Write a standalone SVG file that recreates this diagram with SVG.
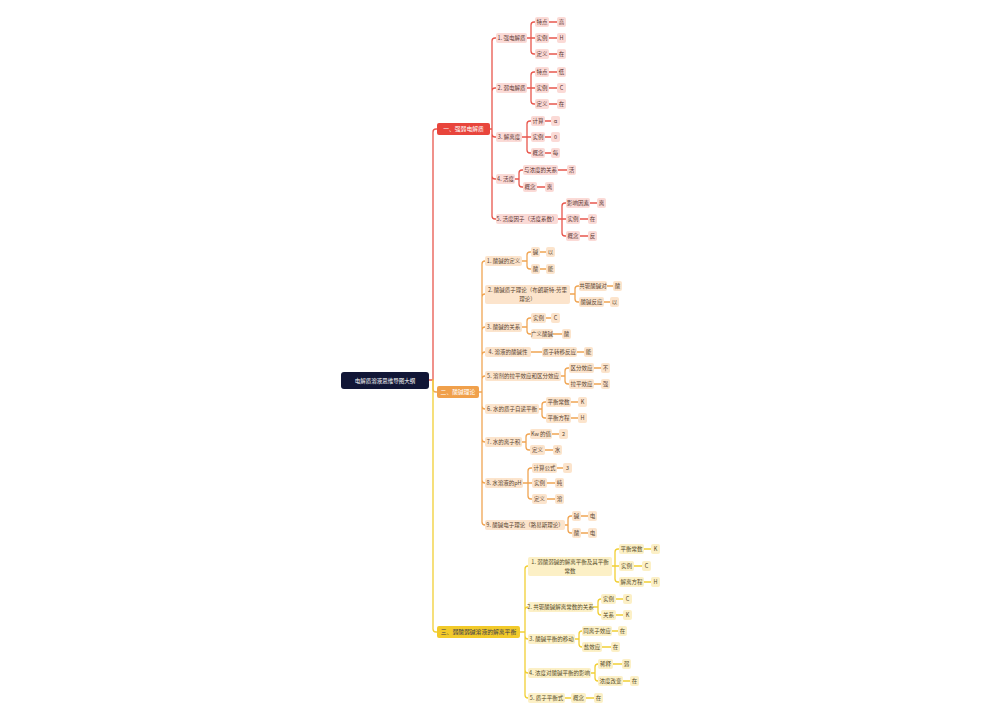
<svg xmlns="http://www.w3.org/2000/svg" width="1000" height="720" viewBox="0 0 1000 720">
<style>
text{font-family:"Noto Sans CJK SC","Noto Sans",sans-serif;font-size:5.5px;text-anchor:middle}
.c1,.c2,.c3{fill:none;stroke-linecap:round;stroke-linejoin:round;stroke-width:1.3}
.c1{stroke:#e8574d}.c2{stroke:#f0a553}.c3{stroke:#f1cf35}
.k1 rect{fill:#fbdad6}.k1 text{fill:#5a3431}
.k2 rect{fill:#fce4cc}.k2 text{fill:#5a4532}
.k3 rect{fill:#fcf0c6}.k3 text{fill:#554b28}
.br text{font-size:5.8px}
</style>
<rect width="1000" height="720" fill="#fff"/>
<g id="connectors">
<g class="c1">
<path d="M429,380H433M433,380V132Q433,129 436,129H437"/>
<path d="M490,129H492M492,129V41Q492,38 495,38H496M492,129V91Q492,88 495,88H496M492,129V134Q492,137 495,137H496M492,129V176Q492,179 495,179H496M492,129V216Q492,219 495,219H496"/>
<path d="M527,38H535M531,38V25Q531,22 534,22H535M531,38V51Q531,54 534,54H535M549,22H557M549,38H557M549,54H557"/>
<path d="M527,88H535M531,88V75Q531,72 534,72H535M531,88V101Q531,104 534,104H535M549,72H557M549,88H557M549,104H557"/>
<path d="M522,137H531M527,137V124Q527,121 530,121H531M527,137V150Q527,153 530,153H531M545,121H551M545,137H551M545,153H551"/>
<path d="M515,179H519M519,179V173Q519,170 522,170H523M519,179V184Q519,187 522,187H523M558,170H567M537,187H545"/>
<path d="M558,219H566M562,219V206Q562,203 565,203H566M562,219V233Q562,236 565,236H566M590,203H597M580,219H588M580,236H588"/>
</g>
<g class="c2">
<path d="M433,380V389Q433,392 436,392H437"/>
<path d="M479,392H482M482,392V264Q482,261 485,261M482,392V297Q482,294 485,294M482,392V330Q482,327 485,327M482,392V355Q482,352 485,352M482,392V379Q482,376 485,376M482,392V406Q482,409 485,409M482,392V439Q482,442 485,442M482,392V480Q482,483 485,483M482,392V522Q482,525 485,525"/>
<path d="M522,261H527M527,261V255Q527,252 530,252H531M527,261V266Q527,269 530,269H531M540,252H546M540,269H546"/>
<path d="M570,294H575M575,294V289Q575,286 578,286H579M575,294V299Q575,302 578,302H579M607,286H613M604,302H610"/>
<path d="M522,327H527M527,327V321Q527,318 530,318H531M527,327V331Q527,334 530,334H531M546,318H551M553,334H562"/>
<path d="M531,352H542M577,352H584"/>
<path d="M561,376H565M565,376V371Q565,368 568,368H569M565,376V381Q565,384 568,384H569M594,368H601M594,384H601"/>
<path d="M539,409H542M542,409V405Q542,402 545,402H546M542,409V415Q542,418 545,418H546M571,402H578M571,418H578"/>
<path d="M522,442H526M526,442V437Q526,434 529,434H530M526,442V447Q526,450 529,450H530M552,434H559M545,450H553"/>
<path d="M523,483H532M528,483V471Q528,468 531,468H532M528,483V496Q528,499 531,499H532M557,468H563M547,483H555M547,499H555"/>
<path d="M565,525H568M568,525V519Q568,516 571,516H572M568,525V530Q568,533 571,533H572M581,516H588M581,533H588"/>
</g>
<g class="c3">
<path d="M433,380V629Q433,632 436,632H437"/>
<path d="M520,632H525M525,632V569Q525,566 528,566M525,632V610Q525,607 528,607M525,632V636Q525,639 528,639M525,632V670Q525,673 528,673M525,632V695Q525,698 528,698"/>
<path d="M612,566H619M615,566V552Q615,549 618,549H619M615,566V579Q615,582 618,582H619M644,549H651M634,566H642M644,582H651"/>
<path d="M593,607H598M598,607V602Q598,599 601,599M598,607V612Q598,615 601,615M616,599H623M616,615H623"/>
<path d="M575,639H579M579,639V634Q579,631 582,631M579,639V644Q579,647 582,647M612,631H618M602,647H611"/>
<path d="M591,673H595M595,673V667Q595,664 598,664M595,673V678Q595,681 598,681M613,664H622M623,681H630"/>
<path d="M565,698H571M586,698H594"/>
</g>
</g>
<g id="root"><rect x="341" y="372" width="88" height="17" rx="3" fill="#111636"/><text x="385" y="382.5" fill="#fff" font-size="7">电解质溶液思维导图大纲</text></g>
<g class="br">
<g id="b1"><rect x="437" y="123" width="53" height="12" rx="2" fill="#e8453c"/><text x="463.5" y="131" fill="#fff">一、强弱电解质</text></g>
<g id="b2"><rect x="437" y="386" width="42" height="12" rx="2" fill="#f0a04b"/><text x="458" y="394" fill="#fff">二、酸碱理论</text></g>
<g id="b3"><rect x="437" y="626" width="83" height="12" rx="2" fill="#f2ca2a"/><text x="478.5" y="634" fill="#3a3a4a">三、弱酸弱碱溶液的解离平衡</text></g>
</g>
<g class="k1">
<g id="n1-1"><rect x="496" y="33" width="31" height="10" rx="2"/><text x="511.5" y="40">1. 强电解质</text></g>
<g id="n1-1a"><rect x="535" y="17" width="14" height="10" rx="2"/><text x="542" y="24">特点</text></g>
<g id="n1-1a1"><rect x="557" y="17" width="9" height="10" rx="2"/><text x="561.5" y="24">高</text></g>
<g id="n1-1b"><rect x="535" y="33" width="14" height="10" rx="2"/><text x="542" y="40">实例</text></g>
<g id="n1-1b1"><rect x="557" y="33" width="9" height="10" rx="2"/><text x="561.5" y="40">H</text></g>
<g id="n1-1c"><rect x="535" y="49" width="14" height="10" rx="2"/><text x="542" y="56">定义</text></g>
<g id="n1-1c1"><rect x="557" y="49" width="9" height="10" rx="2"/><text x="561.5" y="56">在</text></g>
<g id="n1-2"><rect x="496" y="83" width="31" height="10" rx="2"/><text x="511.5" y="90">2. 弱电解质</text></g>
<g id="n1-2a"><rect x="535" y="67" width="14" height="10" rx="2"/><text x="542" y="74">特点</text></g>
<g id="n1-2a1"><rect x="557" y="67" width="9" height="10" rx="2"/><text x="561.5" y="74">低</text></g>
<g id="n1-2b"><rect x="535" y="83" width="14" height="10" rx="2"/><text x="542" y="90">实例</text></g>
<g id="n1-2b1"><rect x="557" y="83" width="9" height="10" rx="2"/><text x="561.5" y="90">C</text></g>
<g id="n1-2c"><rect x="535" y="99" width="14" height="10" rx="2"/><text x="542" y="106">定义</text></g>
<g id="n1-2c1"><rect x="557" y="99" width="9" height="10" rx="2"/><text x="561.5" y="106">在</text></g>
<g id="n1-3"><rect x="496" y="132" width="26" height="10" rx="2"/><text x="509" y="139">3. 解离度</text></g>
<g id="n1-3a"><rect x="531" y="116" width="14" height="10" rx="2"/><text x="538" y="123">计算</text></g>
<g id="n1-3a1"><rect x="551" y="116" width="9" height="10" rx="2"/><text x="555.5" y="123">α</text></g>
<g id="n1-3b"><rect x="531" y="132" width="14" height="10" rx="2"/><text x="538" y="139">实例</text></g>
<g id="n1-3b1"><rect x="551" y="132" width="9" height="10" rx="2"/><text x="555.5" y="139">0</text></g>
<g id="n1-3c"><rect x="531" y="148" width="14" height="10" rx="2"/><text x="538" y="155">概念</text></g>
<g id="n1-3c1"><rect x="551" y="148" width="9" height="10" rx="2"/><text x="555.5" y="155">每</text></g>
<g id="n1-4"><rect x="496" y="174" width="19" height="10" rx="2"/><text x="505.5" y="181">4. 活度</text></g>
<g id="n1-4a"><rect x="523" y="165" width="35" height="10" rx="2"/><text x="540.5" y="172">与浓度的关系</text></g>
<g id="n1-4a1"><rect x="567" y="165" width="9" height="10" rx="2"/><text x="571.5" y="172">活</text></g>
<g id="n1-4b"><rect x="523" y="182" width="14" height="10" rx="2"/><text x="530" y="189">概念</text></g>
<g id="n1-4b1"><rect x="545" y="182" width="9" height="10" rx="2"/><text x="549.5" y="189">离</text></g>
<g id="n1-5"><rect x="496" y="214" width="62" height="10" rx="2"/><text x="527" y="221">5. 活度因子（活度系数）</text></g>
<g id="n1-5a"><rect x="566" y="198" width="24" height="10" rx="2"/><text x="578" y="205">影响因素</text></g>
<g id="n1-5a1"><rect x="597" y="198" width="9" height="10" rx="2"/><text x="601.5" y="205">离</text></g>
<g id="n1-5b"><rect x="566" y="214" width="14" height="10" rx="2"/><text x="573" y="221">实例</text></g>
<g id="n1-5b1"><rect x="588" y="214" width="9" height="10" rx="2"/><text x="592.5" y="221">在</text></g>
<g id="n1-5c"><rect x="566" y="231" width="14" height="10" rx="2"/><text x="573" y="238">概念</text></g>
<g id="n1-5c1"><rect x="588" y="231" width="9" height="10" rx="2"/><text x="592.5" y="238">反</text></g>
</g>
<g class="k2">
<g id="n2-1"><rect x="485" y="256" width="37" height="10" rx="2"/><text x="503.5" y="263">1. 酸碱的定义</text></g>
<g id="n2-1a"><rect x="531" y="247" width="9" height="10" rx="2"/><text x="535.5" y="254">碱</text></g>
<g id="n2-1a1"><rect x="546" y="247" width="9" height="10" rx="2"/><text x="550.5" y="254">以</text></g>
<g id="n2-1b"><rect x="531" y="264" width="9" height="10" rx="2"/><text x="535.5" y="271">酸</text></g>
<g id="n2-1b1"><rect x="546" y="264" width="9" height="10" rx="2"/><text x="550.5" y="271">能</text></g>
<g id="n2-2"><rect x="485" y="285" width="85" height="19" rx="2"/><text x="527.5" y="292">2. 酸碱质子理论（布朗斯特-劳里<tspan x="527.5" y="300.5">理论）</tspan></text></g>
<g id="n2-2a"><rect x="579" y="281" width="28" height="10" rx="2"/><text x="593" y="288">共轭酸碱对</text></g>
<g id="n2-2a1"><rect x="613" y="281" width="9" height="10" rx="2"/><text x="617.5" y="288">酸</text></g>
<g id="n2-2b"><rect x="579" y="297" width="25" height="10" rx="2"/><text x="591.5" y="304">酸碱反应</text></g>
<g id="n2-2b1"><rect x="610" y="297" width="9" height="10" rx="2"/><text x="614.5" y="304">以</text></g>
<g id="n2-3"><rect x="485" y="322" width="37" height="10" rx="2"/><text x="503.5" y="329">3. 酸碱的关系</text></g>
<g id="n2-3a"><rect x="531" y="313" width="15" height="10" rx="2"/><text x="538.5" y="320">实例</text></g>
<g id="n2-3a1"><rect x="551" y="313" width="9" height="10" rx="2"/><text x="555.5" y="320">C</text></g>
<g id="n2-3b"><rect x="531" y="329" width="22" height="10" rx="2"/><text x="542" y="336">广义酸碱</text></g>
<g id="n2-3b1"><rect x="562" y="329" width="9" height="10" rx="2"/><text x="566.5" y="336">酸</text></g>
<g id="n2-4"><rect x="485" y="347" width="46" height="10" rx="2"/><text x="508" y="354">4. 溶液的酸碱性</text></g>
<g id="n2-4a"><rect x="542" y="347" width="35" height="10" rx="2"/><text x="559.5" y="354">质子转移反应</text></g>
<g id="n2-4a1"><rect x="584" y="347" width="9" height="10" rx="2"/><text x="588.5" y="354">能</text></g>
<g id="n2-5"><rect x="485" y="371" width="76" height="10" rx="2"/><text x="523" y="378">5. 溶剂的拉平效应和区分效应</text></g>
<g id="n2-5a"><rect x="569" y="363" width="25" height="10" rx="2"/><text x="581.5" y="370">区分效应</text></g>
<g id="n2-5a1"><rect x="601" y="363" width="9" height="10" rx="2"/><text x="605.5" y="370">不</text></g>
<g id="n2-5b"><rect x="569" y="379" width="25" height="10" rx="2"/><text x="581.5" y="386">拉平效应</text></g>
<g id="n2-5b1"><rect x="601" y="379" width="9" height="10" rx="2"/><text x="605.5" y="386">强</text></g>
<g id="n2-6"><rect x="485" y="404" width="54" height="10" rx="2"/><text x="512" y="411">6. 水的质子自递平衡</text></g>
<g id="n2-6a"><rect x="546" y="397" width="25" height="10" rx="2"/><text x="558.5" y="404">平衡常数</text></g>
<g id="n2-6a1"><rect x="578" y="397" width="9" height="10" rx="2"/><text x="582.5" y="404">K</text></g>
<g id="n2-6b"><rect x="546" y="413" width="25" height="10" rx="2"/><text x="558.5" y="420">平衡方程</text></g>
<g id="n2-6b1"><rect x="578" y="413" width="9" height="10" rx="2"/><text x="582.5" y="420">H</text></g>
<g id="n2-7"><rect x="485" y="437" width="37" height="10" rx="2"/><text x="503.5" y="444">7. 水的离子积</text></g>
<g id="n2-7a"><rect x="530" y="429" width="22" height="10" rx="2"/><text x="541" y="436">Kw 的值</text></g>
<g id="n2-7a1"><rect x="559" y="429" width="9" height="10" rx="2"/><text x="563.5" y="436">2</text></g>
<g id="n2-7b"><rect x="530" y="445" width="15" height="10" rx="2"/><text x="537.5" y="452">定义</text></g>
<g id="n2-7b1"><rect x="553" y="445" width="9" height="10" rx="2"/><text x="557.5" y="452">水</text></g>
<g id="n2-8"><rect x="485" y="478" width="38" height="10" rx="2"/><text x="504" y="485">8. 水溶液的pH</text></g>
<g id="n2-8a"><rect x="532" y="463" width="25" height="10" rx="2"/><text x="544.5" y="470">计算公式</text></g>
<g id="n2-8a1"><rect x="563" y="463" width="9" height="10" rx="2"/><text x="567.5" y="470">3</text></g>
<g id="n2-8b"><rect x="532" y="478" width="15" height="10" rx="2"/><text x="539.5" y="485">实例</text></g>
<g id="n2-8b1"><rect x="555" y="478" width="9" height="10" rx="2"/><text x="559.5" y="485">纯</text></g>
<g id="n2-8c"><rect x="532" y="494" width="15" height="10" rx="2"/><text x="539.5" y="501">定义</text></g>
<g id="n2-8c1"><rect x="555" y="494" width="9" height="10" rx="2"/><text x="559.5" y="501">溶</text></g>
<g id="n2-9"><rect x="485" y="520" width="80" height="10" rx="2"/><text x="525" y="527">9. 酸碱电子理论（路易斯理论）</text></g>
<g id="n2-9a"><rect x="572" y="511" width="9" height="10" rx="2"/><text x="576.5" y="518">碱</text></g>
<g id="n2-9a1"><rect x="588" y="511" width="9" height="10" rx="2"/><text x="592.5" y="518">电</text></g>
<g id="n2-9b"><rect x="572" y="528" width="9" height="10" rx="2"/><text x="576.5" y="535">酸</text></g>
<g id="n2-9b1"><rect x="588" y="528" width="9" height="10" rx="2"/><text x="592.5" y="535">电</text></g>
</g>
<g class="k3">
<g id="n3-1"><rect x="528" y="557" width="84" height="19" rx="2"/><text x="570" y="564">1. 弱酸弱碱的解离平衡及其平衡<tspan x="570" y="572.5">常数</tspan></text></g>
<g id="n3-1a"><rect x="619" y="544" width="25" height="10" rx="2"/><text x="631.5" y="551">平衡常数</text></g>
<g id="n3-1a1"><rect x="651" y="544" width="9" height="10" rx="2"/><text x="655.5" y="551">K</text></g>
<g id="n3-1b"><rect x="619" y="561" width="15" height="10" rx="2"/><text x="626.5" y="568">实例</text></g>
<g id="n3-1b1"><rect x="642" y="561" width="9" height="10" rx="2"/><text x="646.5" y="568">C</text></g>
<g id="n3-1c"><rect x="619" y="577" width="25" height="10" rx="2"/><text x="631.5" y="584">解离方程</text></g>
<g id="n3-1c1"><rect x="651" y="577" width="9" height="10" rx="2"/><text x="655.5" y="584">H</text></g>
<g id="n3-2"><rect x="528" y="602" width="65" height="10" rx="2"/><text x="560.5" y="609">2. 共轭酸碱解离常数的关系</text></g>
<g id="n3-2a"><rect x="601" y="594" width="15" height="10" rx="2"/><text x="608.5" y="601">实例</text></g>
<g id="n3-2a1"><rect x="623" y="594" width="9" height="10" rx="2"/><text x="627.5" y="601">C</text></g>
<g id="n3-2b"><rect x="601" y="610" width="15" height="10" rx="2"/><text x="608.5" y="617">关系</text></g>
<g id="n3-2b1"><rect x="623" y="610" width="9" height="10" rx="2"/><text x="627.5" y="617">K</text></g>
<g id="n3-3"><rect x="528" y="634" width="47" height="10" rx="2"/><text x="551.5" y="641">3. 酸碱平衡的移动</text></g>
<g id="n3-3a"><rect x="582" y="626" width="30" height="10" rx="2"/><text x="597" y="633">同离子效应</text></g>
<g id="n3-3a1"><rect x="618" y="626" width="9" height="10" rx="2"/><text x="622.5" y="633">在</text></g>
<g id="n3-3b"><rect x="582" y="642" width="20" height="10" rx="2"/><text x="592" y="649">盐效应</text></g>
<g id="n3-3b1"><rect x="611" y="642" width="9" height="10" rx="2"/><text x="615.5" y="649">在</text></g>
<g id="n3-4"><rect x="528" y="668" width="63" height="10" rx="2"/><text x="559.5" y="675">4. 浓度对酸碱平衡的影响</text></g>
<g id="n3-4a"><rect x="598" y="659" width="15" height="10" rx="2"/><text x="605.5" y="666">稀释</text></g>
<g id="n3-4a1"><rect x="622" y="659" width="9" height="10" rx="2"/><text x="626.5" y="666">弱</text></g>
<g id="n3-4b"><rect x="598" y="676" width="25" height="10" rx="2"/><text x="610.5" y="683">浓度改变</text></g>
<g id="n3-4b1"><rect x="630" y="676" width="9" height="10" rx="2"/><text x="634.5" y="683">在</text></g>
<g id="n3-5"><rect x="528" y="693" width="37" height="10" rx="2"/><text x="546.5" y="700">5. 质子平衡式</text></g>
<g id="n3-5a"><rect x="571" y="693" width="15" height="10" rx="2"/><text x="578.5" y="700">概念</text></g>
<g id="n3-5a1"><rect x="594" y="693" width="9" height="10" rx="2"/><text x="598.5" y="700">在</text></g>
</g>
</svg>
